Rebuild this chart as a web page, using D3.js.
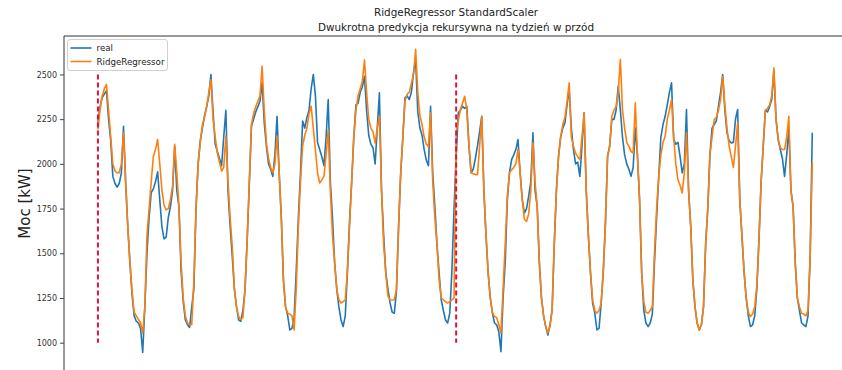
<!DOCTYPE html>
<html>
<head>
<meta charset="utf-8">
<script src="https://cdn.jsdelivr.net/npm/d3@7"></script>
<style>
  html, body { margin: 0; padding: 0; background: #fff; }
  svg { display: block; font-family: "DejaVu Sans", sans-serif; }
</style>
</head>
<body>
<svg id="chart" width="842" height="370"></svg>
<script>
// ---- data (hourly, two weeks) ----
const titleLines = ["RidgeRegressor StandardScaler", "Dwukrotna predykcja rekursywna na tydzień w przód"];
const yLabel = "Moc [kW]";
const seriesNames = ["real", "RidgeRegressor"];
const yTicks = [1000, 1250, 1500, 1750, 2000, 2250, 2500];
const predictionStarts = [0, 168];
const markerRange = [1000, 2500];

const realKW = [
  2231,2320,2370,2390,2410,2250,2130,1930,1890,1870,1890,1950,2210,1900,1650,1450,1270,1150,1120,1110,1080,945,1200,1500,
  1700,1840,1860,1900,1955,1800,1650,1580,1590,1700,1760,1850,2098,1850,1760,1400,1230,1127,1100,1085,1200,1300,1750,2000,
  2130,2200,2270,2320,2380,2500,2290,2110,2070,2030,1990,2150,2300,1850,1650,1482,1300,1200,1127,1120,1180,1300,1575,1890,
  2210,2250,2290,2320,2350,2455,2230,2100,2000,1970,1930,2050,2266,1950,1700,1350,1200,1150,1071,1080,1140,1400,1700,1950,
  2240,2200,2260,2300,2420,2500,2380,2120,2080,2040,1990,2150,2360,1900,1700,1450,1300,1200,1127,1090,1150,1400,1680,1900,
  2150,2330,2340,2400,2430,2490,2300,2160,2110,2090,2000,2200,2397,1850,1600,1390,1300,1222,1170,1165,1290,1650,1950,2150,
  2370,2380,2360,2400,2510,2584,2290,2200,2160,2080,2020,1990,2322,1950,1762,1550,1390,1239,1180,1127,1110,1165,1400,1750,
  2042,2286,2300,2322,2310,2322,2100,1950,1970,2030,2100,2180,2266,1850,1600,1390,1250,1165,1110,1100,1060,950,1250,1450,
  1800,1950,2024,2050,2080,2136,1950,1800,1725,1750,1820,1900,2174,1850,1762,1450,1250,1150,1090,1043,1100,1183,1550,1850,
  2042,2150,2200,2229,2330,2416,2200,2080,2000,2010,1930,2100,2286,1850,1600,1390,1220,1165,1071,1080,1222,1400,1670,2042,
  2100,2250,2248,2300,2435,2300,2150,2050,2000,1970,1930,1980,2200,2050,1800,1390,1180,1110,1090,1110,1160,1450,1700,1930,
  2150,2220,2266,2330,2400,2453,2136,2110,2120,2042,1950,2000,2304,1850,1650,1350,1200,1110,1071,1100,1202,1550,1750,2050,
  2200,2220,2240,2322,2400,2500,2300,2174,2130,2117,2120,2250,2304,1800,1600,1400,1250,1150,1090,1100,1150,1300,1575,1900,
  2100,2300,2290,2320,2360,2520,2250,2136,2080,2030,1930,2050,2200,1850,1762,1450,1250,1180,1110,1100,1090,1150,1482,2174
];

const ridgeKW = [
  2191,2300,2380,2420,2444,2300,2150,2000,1960,1950,1950,2000,2175,1900,1650,1450,1290,1170,1150,1130,1110,1054,1200,1600,
  1750,1900,2042,2080,2136,2000,1855,1770,1743,1750,1800,1874,2110,1950,1760,1450,1250,1150,1110,1100,1100,1350,1750,2000,
  2120,2220,2260,2320,2400,2470,2250,2150,2060,2010,1960,1980,2154,1900,1700,1538,1300,1200,1146,1130,1140,1300,1580,1900,
  2220,2280,2320,2350,2380,2546,2300,2120,2030,1980,1950,2000,2154,1950,1700,1350,1200,1165,1160,1150,1071,1300,1650,1900,
  2100,2160,2200,2280,2322,2200,2080,1950,1893,1910,1930,2050,2191,1850,1600,1450,1300,1240,1222,1230,1239,1400,1650,1900,
  2150,2300,2380,2420,2460,2580,2400,2250,2200,2180,2116,2200,2266,1850,1550,1390,1260,1240,1239,1240,1300,1650,1950,2150,
  2350,2390,2400,2450,2500,2640,2400,2270,2220,2150,2110,2098,2286,1900,1700,1550,1350,1250,1239,1230,1222,1230,1240,1250,
  2174,2240,2304,2340,2378,2300,2100,1950,1945,1940,1940,2100,2266,1850,1600,1390,1250,1170,1146,1140,1100,1054,1300,1550,
  1820,1950,1967,1980,2000,2080,1950,1800,1690,1678,1720,1850,2118,1900,1762,1450,1250,1150,1090,1054,1090,1183,1550,1850,
  2042,2150,2220,2260,2350,2453,2150,2098,2060,2040,2024,2150,2286,1850,1600,1390,1240,1180,1165,1180,1222,1400,1670,2042,
  2100,2266,2300,2322,2400,2584,2300,2200,2120,2098,2070,2060,2341,2050,1800,1390,1230,1170,1165,1180,1202,1500,1750,1930,
  2050,2120,2154,2250,2300,2360,2150,2000,1911,1880,1837,1950,2174,1850,1650,1350,1200,1110,1071,1100,1202,1550,1750,2050,
  2150,2248,2260,2300,2360,2490,2330,2200,2100,2040,1980,2100,2229,1800,1600,1400,1250,1170,1146,1160,1200,1320,1575,1900,
  2100,2300,2310,2330,2380,2537,2250,2140,2090,2080,2080,2150,2266,1850,1762,1450,1250,1200,1165,1160,1150,1180,1482,2006
];

// ---- layout ----
const W = 842, H = 370;
const plot = { left: 64, top: 36, right: 848, bottom: 371 };
const colors = { real: "#1f77b4", ridge: "#ff7f0e", marker: "#dc143c" };

const svg = d3.select("#chart");
const N = realKW.length;
const span = N - 1;
const x = d3.scaleLinear()
  .domain([-0.05 * span, 1.05 * span])
  .range([plot.left - 1.8, plot.right]);
const y = d3.scaleLinear()
  .domain([845, 2715])
  .range([plot.bottom - 0.6, plot.top]);

// plot frame (left + top visible)
svg.append("line").attr("x1", plot.left).attr("x2", plot.right).attr("y1", plot.top).attr("y2", plot.top)
  .attr("stroke", "#333").attr("stroke-width", 1);
svg.append("line").attr("x1", plot.left).attr("x2", plot.left).attr("y1", plot.top).attr("y2", plot.bottom)
  .attr("stroke", "#333").attr("stroke-width", 1);

// y axis
const yAxis = d3.axisLeft(y).tickValues(yTicks).tickSize(4).tickPadding(3).tickFormat(d3.format("d"));
const gy = svg.append("g").attr("transform", `translate(${plot.left},0)`).call(yAxis);
gy.select(".domain").remove();
gy.selectAll(".tick line").attr("stroke", "#444");
gy.selectAll(".tick text").attr("fill", "#333").style("font-size", "8px").style("font-family", "DejaVu Sans, sans-serif");

// y label
svg.append("text")
  .attr("transform", `translate(30,${(plot.top + plot.bottom) / 2}) rotate(-90)`)
  .attr("text-anchor", "middle")
  .attr("fill", "#222")
  .style("font-size", "15px")
  .text(yLabel);

// title
const cx = (plot.left + plot.right) / 2;
svg.append("text").attr("x", cx).attr("y", 16).attr("text-anchor", "middle")
  .attr("fill", "#222").style("font-size", "10.4px").text(titleLines[0]);
svg.append("text").attr("x", cx).attr("y", 31).attr("text-anchor", "middle")
  .attr("fill", "#222").style("font-size", "10.4px").text(titleLines[1]);

// lines
const line = d3.line().x((d, i) => x(i)).y(d => y(d));
const clip = svg.append("clipPath").attr("id", "clip").append("rect")
  .attr("x", plot.left).attr("y", plot.top).attr("width", plot.right - plot.left).attr("height", plot.bottom - plot.top);

svg.append("path").datum(realKW).attr("d", line)
  .attr("fill", "none").attr("stroke", colors.real).attr("stroke-width", 1.6)
  .attr("stroke-linejoin", "round").attr("clip-path", "url(#clip)");
svg.append("path").datum(ridgeKW).attr("d", line)
  .attr("fill", "none").attr("stroke", colors.ridge).attr("stroke-width", 1.6)
  .attr("stroke-linejoin", "round").attr("clip-path", "url(#clip)");

// prediction start markers
svg.selectAll(".marker").data(predictionStarts).enter().append("line")
  .attr("class", "marker")
  .attr("x1", d => x(d)).attr("x2", d => x(d))
  .attr("y1", y(markerRange[1])).attr("y2", y(markerRange[0]))
  .attr("stroke", colors.marker).attr("stroke-width", 2)
  .attr("stroke-dasharray", "5,3");

// legend
const lg = svg.append("g").attr("transform", "translate(67.5,39.5)");
lg.append("rect").attr("width", 100).attr("height", 31).attr("rx", 2.5)
  .attr("fill", "#fff").attr("fill-opacity", 0.8).attr("stroke", "#d0d0d0").attr("stroke-width", 1);
[colors.real, colors.ridge].forEach((c, k) => {
  const yy = 8.5 + k * 13.5;
  lg.append("line").attr("x1", 3).attr("x2", 24).attr("y1", yy).attr("y2", yy)
    .attr("stroke", c).attr("stroke-width", 1.6);
  lg.append("text").attr("x", 29).attr("y", yy + 3).attr("fill", "#222")
    .style("font-size", "8.7px").text(seriesNames[k]);
});
</script>
</body>
</html>
